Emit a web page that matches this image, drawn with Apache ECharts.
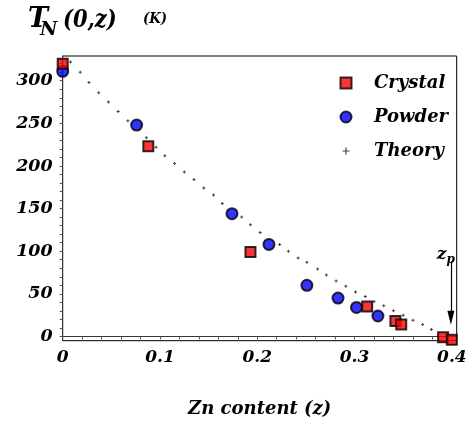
<!DOCTYPE html>
<html><head><meta charset="utf-8">
<script src="https://cdn.jsdelivr.net/npm/echarts@6/dist/echarts.min.js"></script>
<style>html,body{margin:0;padding:0;background:#fff}#c{width:473px;height:424px}</style>
</head><body><div id="c"></div>
<script>
// Neel temperature vs Zn content: measured points and calculated curve
const crystal = [[0, 320], [0.088, 223], [0.193, 99], [0.313, 35], [0.342, 18], [0.348, 14], [0.391, -1], [0.400, -4]];
const powder = [[0, 311], [0.076, 248], [0.174, 144], [0.212, 108], [0.251, 60], [0.283, 45], [0.302, 34], [0.324, 24]];
const theory = [
  [0.008, 322], [0.018, 310], [0.027, 298], [0.037, 286], [0.047, 275], [0.057, 264], [0.067, 253],
  [0.086, 233], [0.096, 222], [0.105, 212], [0.115, 203], [0.125, 193], [0.135, 184], [0.145, 174],
  [0.155, 166], [0.164, 156], [0.184, 140], [0.193, 131], [0.203, 122], [0.223, 108], [0.232, 100],
  [0.242, 92], [0.251, 87], [0.262, 79], [0.271, 72], [0.281, 65], [0.291, 59], [0.301, 52],
  [0.311, 47], [0.320, 41], [0.330, 36], [0.340, 30], [0.350, 25], [0.360, 19], [0.370, 14], [0.379, 8]
];
const xTickLabels = [0, 0.1, 0.2, 0.3, 0.4];
const yTickLabels = [0, 50, 100, 150, 200, 250, 300];
const zp = 0.399;

const SERIF = '"DejaVu Serif", serif';
const plusSmall = 'path://M1,0h1v1h1v1h-1v1h-1v-1h-1v-1h1z';
// legend icons padded to the full 46x11 icon box so they keep their shape
const squareLegend = 'path://M0,0M46,11M17.5,0h11v11h-11z';
const plusLegend = 'path://M0,0M46,11M22.4,2h1.2v7h-1.2zM19.5,4.9h7v1.2h-7z';

const xMinor = [];
for (let i = 0; i <= 20; i++) xMinor.push(+(i * 0.02).toFixed(2));
const yMinor = [];
for (let v = 0; v <= 320; v += 10) yMinor.push(v);

const boldItalic = { fontFamily: SERIF, fontStyle: 'italic', fontWeight: 'bold', color: '#000' };

const chart = echarts.init(document.getElementById('c'), null, { renderer: 'canvas' });
chart.setOption({
  animation: false,
  backgroundColor: '#fff',
  grid: { left: 62.7, right: 16.3, top: 56, bottom: 83.3, show: true, borderColor: '#000', borderWidth: 1, backgroundColor: 'transparent' },
  xAxis: {
    type: 'value', min: 0, max: 0.405,
    name: 'Zn content (z)', nameLocation: 'middle', nameGap: 60,
    nameTextStyle: Object.assign({ fontSize: 18 }, boldItalic),
    axisLine: { lineStyle: { color: '#333', width: 1 } },
    axisTick: { length: 3, lineStyle: { color: '#555' }, customValues: xMinor },
    axisLabel: Object.assign({ customValues: xTickLabels, margin: 8, fontSize: 17, formatter: v => String(v) }, boldItalic),
    splitLine: { show: false }
  },
  yAxis: {
    type: 'value', min: -5, max: 329,
    axisLine: { show: true, lineStyle: { color: '#333', width: 1 } },
    axisTick: { show: true, length: 3, lineStyle: { color: '#555' }, customValues: yMinor },
    axisLabel: Object.assign({ customValues: yTickLabels, margin: 10, fontSize: 17.5 }, boldItalic),
    splitLine: { show: false }
  },
  legend: {
    orient: 'vertical', left: 322, top: 74, padding: 0,
    itemWidth: 46, itemHeight: 11, itemGap: 16,
    textStyle: Object.assign({ fontSize: 18, lineHeight: 18 }, boldItalic),
    data: [
      { name: 'Crystal', icon: squareLegend },
      { name: 'Powder', icon: 'circle' },
      { name: 'Theory', icon: plusLegend }
    ]
  },
  series: [
    {
      name: 'Theory', type: 'scatter', data: theory, symbol: plusSmall, symbolSize: 3,
      itemStyle: { color: '#111' }, z: 2,
      markLine: {
        silent: true, symbol: ['none', 'triangle'], symbolSize: [7, 14],
        lineStyle: { color: '#000', width: 1.2, type: 'solid' },
        label: {
          show: true, position: 'start', distance: -4,
          padding: [0, 10, 0, 0],
          formatter: '{z|z}{p|p}',
          rich: {
            z: Object.assign({ fontSize: 17 }, boldItalic),
            p: Object.assign({ fontSize: 12, padding: [10, 0, 0, 0] }, boldItalic)
          }
        },
        data: [[{ coord: [zp, 88] }, { coord: [zp, 22] }]]
      }
    },
    {
      name: 'Powder', type: 'scatter', data: powder, symbol: 'circle', symbolSize: 11,
      itemStyle: { color: '#0000ff', borderColor: '#000', borderWidth: 2 }, z: 3
    },
    {
      name: 'Crystal', type: 'scatter', data: crystal, symbol: 'rect', symbolSize: 10,
      itemStyle: { color: '#ff0000', borderColor: '#000', borderWidth: 2 }, z: 4
    }
  ],
  graphic: [
    { type: 'text', x: 28, y: 20, style: { text: 'T', font: 'italic bold 27px ' + SERIF, fill: '#000', verticalAlign: 'middle' } },
    { type: 'text', x: 40, y: 30, style: { text: 'N', font: 'italic bold 19px ' + SERIF, fill: '#000', verticalAlign: 'middle' } },
    { type: 'text', x: 63, y: 20, scaleX: 0.84, style: { text: '(0,z)', font: 'italic bold 25px ' + SERIF, fill: '#000', verticalAlign: 'middle' } },
    { type: 'text', x: 143, y: 19, scaleX: 0.95, style: { text: '(K)', font: 'italic bold 14px ' + SERIF, fill: '#000', verticalAlign: 'middle' } }
  ]
});
</script></body></html>
